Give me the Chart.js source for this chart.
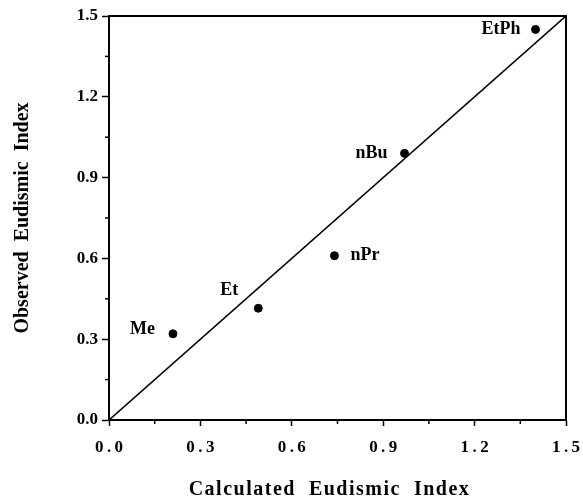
<!DOCTYPE html>
<html>
<head>
<meta charset="utf-8">
<script src="https://cdn.jsdelivr.net/npm/chart.js@4/dist/chart.umd.min.js"></script>
<style>
  html, body { margin: 0; padding: 0; background: #fff; }
  #wrap { width: 583px; height: 502px; }
</style>
</head>
<body>
<div id="wrap"><canvas id="chart"></canvas></div>
<script>
// data
const compounds = ['Me', 'Et', 'nPr', 'nBu', 'EtPh'];
const calculated = [0.21, 0.49, 0.74, 0.97, 1.40];
const observed = [0.32, 0.415, 0.61, 0.99, 1.45];
const identityLine = [0, 1.5];
const axisMin = 0;
const axisMax = 1.5;
const majorStep = 0.3;
const minorStep = 0.15;
const xTitle = 'Calculated  Eudismic  Index';
const yTitle = 'Observed  Eudismic  Index';

const serif = '"Liberation Serif", "Times New Roman", serif';

// where each compound name sits relative to its dot (dx, dy, align)
const labelPlace = {
  Me:   [-18, -4, 'right'],
  Et:   [-20, -18, 'right'],
  nPr:  [16, 0, 'left'],
  nBu:  [-17, 0, 'right'],
  EtPh: [-15, 0, 'right'],
};

const isMajor = (v) => Math.round(v / minorStep) % 2 === 0;

// frame, minor ticks, x title and point names
const extras = {
  id: 'extras',
  afterDraw(chart) {
    const { ctx, chartArea: a, scales } = chart;
    ctx.save();
    ctx.strokeStyle = '#000';
    ctx.lineWidth = 2;
    ctx.strokeRect(a.left, a.top, a.right - a.left, a.bottom - a.top);

    // minor ticks (shorter than major ones)
    ctx.lineWidth = 1.5;
    for (let v = axisMin + minorStep; v < axisMax; v += majorStep) {
      const x = scales.x.getPixelForValue(v);
      ctx.beginPath();
      ctx.moveTo(x, a.bottom);
      ctx.lineTo(x, a.bottom + 4);
      ctx.stroke();
      const y = scales.y.getPixelForValue(v);
      ctx.beginPath();
      ctx.moveTo(a.left, y);
      ctx.lineTo(a.left - 4, y);
      ctx.stroke();
    }

    ctx.fillStyle = '#000';
    ctx.textBaseline = 'middle';

    // x title is letter-spaced in the original, sits a bit left of centre
    ctx.font = 'bold 20px ' + serif;
    ctx.letterSpacing = '1.5px';
    ctx.textAlign = 'center';
    ctx.fillText(xTitle, (a.left + a.right) / 2 - 8, 490);
    ctx.letterSpacing = '0px';

    ctx.font = 'bold 18px ' + serif;
    compounds.forEach((name, i) => {
      const p = labelPlace[name];
      const x = scales.x.getPixelForValue(calculated[i]);
      const y = scales.y.getPixelForValue(observed[i]);
      ctx.textAlign = p[2];
      ctx.fillText(name, x + p[0], y + p[1]);
    });
    ctx.restore();
  }
};

const tickColor = (c) => (isMajor(c.tick.value) ? '#000' : 'rgba(0,0,0,0)');

new Chart(document.getElementById('chart'), {
  type: 'scatter',
  data: {
    datasets: [
      {
        data: compounds.map((c, i) => ({ x: calculated[i], y: observed[i] })),
        backgroundColor: '#000',
        borderColor: '#000',
        pointRadius: 4,
        pointHoverRadius: 4,
      },
      {
        data: identityLine.map((v) => ({ x: v, y: v })),
        showLine: true,
        borderColor: '#000',
        borderWidth: 1.6,
        pointRadius: 0,
        fill: false,
      },
    ],
  },
  options: {
    responsive: true,
    maintainAspectRatio: false,
    animation: false,
    layout: { padding: { top: 16, right: 17, left: 0, bottom: 0 } },
    plugins: {
      legend: { display: false },
      tooltip: { enabled: false },
    },
    scales: {
      x: {
        type: 'linear',
        min: axisMin,
        max: axisMax,
        afterFit(s) {
          s.height = 82;
          s.paddingLeft = 0;
          s.paddingRight = 0;
        },
        ticks: {
          stepSize: minorStep,
          autoSkip: false,
          maxRotation: 0,
          padding: 11,
          color: '#000',
          font: { family: serif, size: 17, weight: 'bold' },
          callback: (v) => (isMajor(v) ? Number(v).toFixed(1).split('').join('\u2009') : ''),
        },
        grid: { drawOnChartArea: false, tickLength: 6, tickWidth: 1.5, tickColor },
        border: { color: '#000', width: 2 },
      },
      y: {
        type: 'linear',
        min: axisMin,
        max: axisMax,
        afterFit(s) {
          s.width = 109;
          s.paddingTop = 0;
          s.paddingBottom = 0;
        },
        ticks: {
          stepSize: minorStep,
          autoSkip: false,
          padding: 4,
          color: '#000',
          font: { family: serif, size: 17, weight: 'bold' },
          callback: (v) => (isMajor(v) ? Number(v).toFixed(1) : ''),
        },
        grid: { drawOnChartArea: false, tickLength: 7, tickWidth: 1.5, tickColor },
        border: { color: '#000', width: 2 },
        title: {
          display: true,
          text: yTitle,
          color: '#000',
          font: { family: serif, size: 20, weight: 'bold' },
          padding: { top: 11, bottom: 0 },
        },
      },
    },
  },
  plugins: [extras],
});
</script>
</body>
</html>
